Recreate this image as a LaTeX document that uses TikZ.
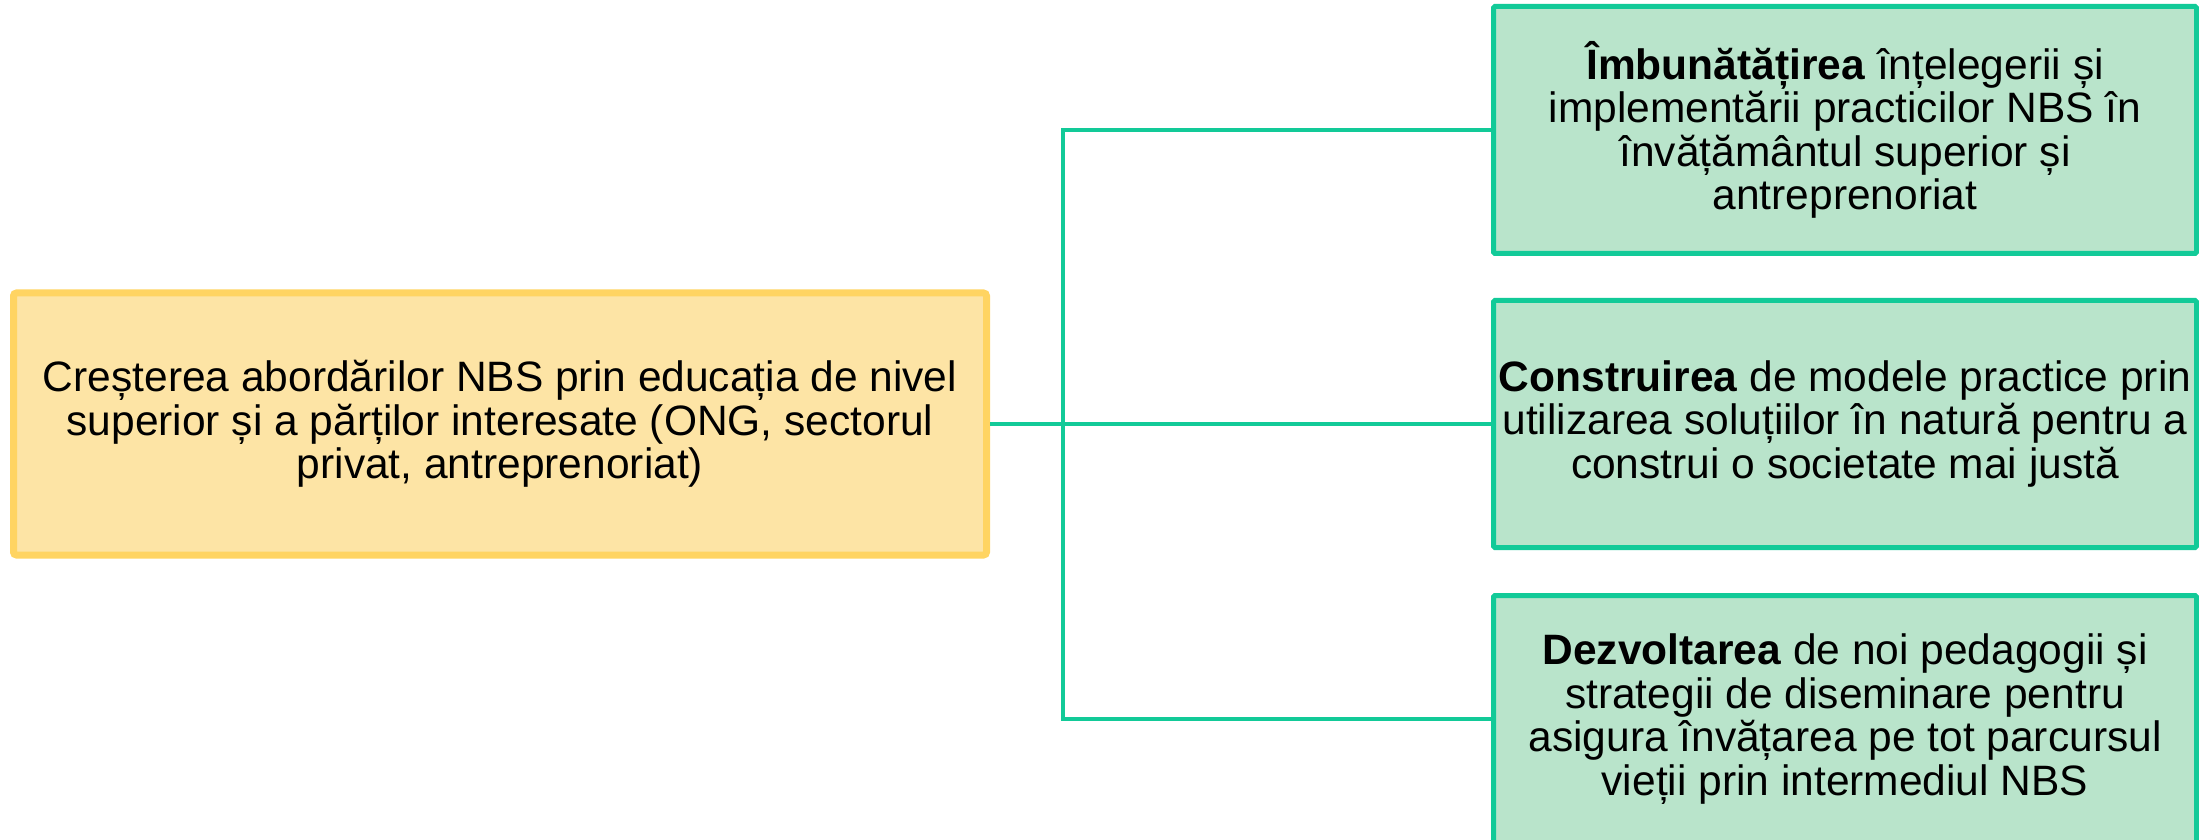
\documentclass[tikz,border=0pt]{standalone}
\usepackage{fontspec}
\setmainfont{Liberation Sans}
\definecolor{yfill}{HTML}{FDE4A5}
\definecolor{ydraw}{HTML}{FFD462}
\definecolor{gfill}{HTML}{B9E4CB}
\definecolor{gdraw}{HTML}{12CA98}
\begin{document}
\begin{tikzpicture}[x=1pt,y=1pt,
  txt/.style={font=\fontsize{42.5}{43.5}\selectfont, align=center, inner sep=0pt},
  srcbox/.style={txt, draw=ydraw, fill=yfill, line width=7pt, rounded corners=3pt,
    minimum width=973pt, minimum height=262pt},
  goalbox/.style={txt, draw=gdraw, fill=gfill, line width=5pt, rounded corners=1.5pt,
    minimum width=703pt, minimum height=247pt},
  conn/.style={draw=gdraw, line width=4pt, line join=miter}]
\useasboundingbox (0,0) rectangle (2199,839);
\fill[white] (0,0) rectangle (2199,839);
\node[srcbox] (L) at (500,415) {Creșterea abordărilor NBS prin educația de nivel\\superior și a părților interesate (ONG, sectorul\\privat, antreprenoriat)};
\node[goalbox] (R1) at (1845,709) {\textbf{Îmbunătățirea} înțelegerii și\\implementării practicilor NBS în\\învățământul superior și\\antreprenoriat};
\node[goalbox] (R2) at (1845,415) {\textbf{Construirea} de modele practice prin\\utilizarea soluțiilor în natură pentru a\\construi o societate mai justă};
\node[goalbox] (R3) at (1845,120) {\textbf{Dezvoltarea} de noi pedagogii și\\strategii de diseminare pentru\\asigura învățarea pe tot parcursul\\vieții prin intermediul NBS};
\coordinate (sp) at (1063,415);
\draw[conn] (L.east) -- (R2.west);
\draw[conn] (R1.west) -| (sp) |- (R3.west);
\end{tikzpicture}
\end{document}
